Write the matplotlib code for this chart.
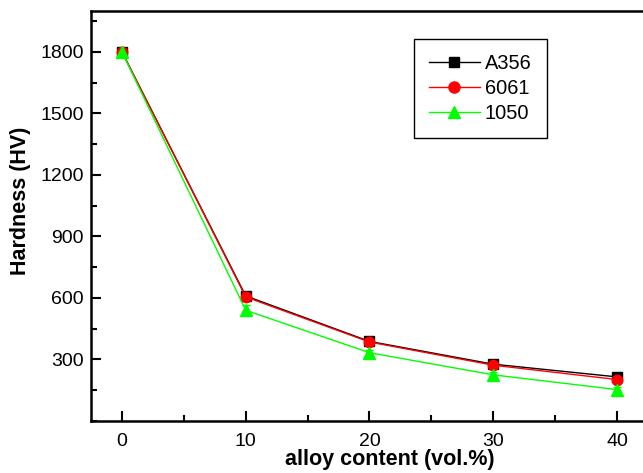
import matplotlib
matplotlib.use('Agg')
import matplotlib.pyplot as plt
from matplotlib.lines import Line2D
from matplotlib.ticker import MultipleLocator

plt.rcParams['font.family'] = ['Liberation Sans', 'DejaVu Sans']

content = [0, 10, 20, 30, 40]  # vol.%
a356 = [1800, 610, 388, 277, 215]
a6061 = [1800, 605, 385, 272, 202]
a1050 = [1800, 540, 333, 225, 153]
err_a356 = [15, 15, 12, 10, 10]
err_6061 = [15, 15, 12, 10, 10]
err_1050 = [20, 25, 15, 12, 12]

series = [
    ('A356', a356, err_a356, 'black', 's', 6.5),
    ('6061', a6061, err_6061, '#ff0000', 'o', 7.5),
    ('1050', a1050, err_1050, '#00ff00', '^', 8),
]

fig = plt.figure(figsize=(6.43, 4.73), dpi=100)
ax = fig.add_axes([0.1415, 0.110, 0.8585, 0.867])

handles = []
for name, vals, err, col, mk, ms in series:
    ax.errorbar(content, vals, yerr=err, color=col, marker=mk, ms=ms,
                lw=1.0, capsize=3, elinewidth=0.8)
    handles.append(Line2D([], [], color=col, marker=mk, ms=ms + 0.5, lw=1.0, label=name))

ax.set_xlim(-2.5, 42.1)
ax.set_ylim(0, 2000)
ax.set_xticks([0, 10, 20, 30, 40])
ax.set_yticks([300, 600, 900, 1200, 1500, 1800])
ax.xaxis.set_minor_locator(MultipleLocator(5))
ax.yaxis.set_minor_locator(MultipleLocator(150))
ax.tick_params(which='both', direction='in', width=1.5, labelsize=14, top=False, right=False)
ax.tick_params(which='major', length=7)
ax.tick_params(which='minor', length=4)
ax.tick_params(axis='x', pad=9)
ax.tick_params(axis='y', pad=5)
for s in ax.spines.values():
    s.set_linewidth(1.8)
ax.spines['right'].set_visible(False)

ax.set_xlabel('alloy content (vol.%)', fontsize=15.5, fontweight='bold')
ax.xaxis.set_label_coords(0.542, -0.095)
ax.xaxis.label.set_va('center')
ax.set_ylabel('Hardness (HV)', fontsize=15.5, fontweight='bold')
ax.yaxis.set_label_coords(-0.127, 0.537)
ax.yaxis.label.set_va('center')

leg = ax.legend(handles=handles, loc='upper left', bbox_to_anchor=(0.585, 0.931), fontsize=14.4,
                fancybox=False, edgecolor='black', framealpha=1, handlelength=2.55,
                borderpad=0.75, labelspacing=0.3, handletextpad=0.25, borderaxespad=0)
leg.get_frame().set_linewidth(1.0)

fig.savefig('out.png', dpi=100)
